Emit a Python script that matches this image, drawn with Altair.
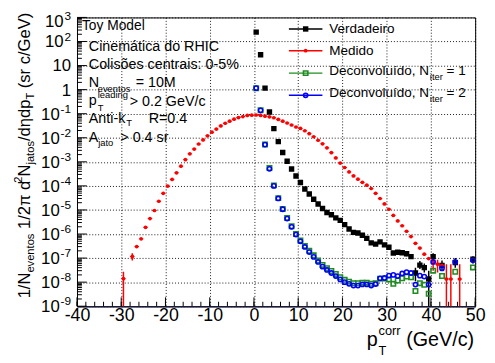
import altair as alt
import pandas as pd

# ---------------- data ----------------
true_x = [0.5, 1.5, 2.5, 3.5, 4.5, 5.5, 6.5, 7.5, 8.5, 9.5, 10.5, 11.5, 12.5, 13.5, 14.5,
          15.5, 16.5, 17.5, 18.5, 19.5, 20.5, 21.5, 22.5, 23.5, 24.5, 25.5, 26.5, 27.5,
          28.5, 29.5, 30.5, 31.5, 32.5, 33.5, 34.5, 35.5, 36.5, 37.5, 38.5, 39.5, 40.5,
          42.5, 45.5, 49.5]
true_y = [245, 28, 1.15, 0.117, 0.024, 6.9e-3, 2.45e-3, 1.05e-3, 5.0e-4, 2.57e-4, 1.38e-4,
          7.4e-5, 4.6e-5, 2.8e-5, 1.78e-5, 1.15e-5, 7.8e-6, 6.3e-6, 4.7e-6, 3.7e-6, 2.45e-6,
          1.62e-6, 1.17e-6, 1.1e-6, 8.9e-7, 6.6e-7, 4.3e-7, 3.8e-7, 4.7e-7, 3.55e-7, 2.8e-7,
          1.62e-7, 1.74e-7, 1.66e-7, 1.51e-7, 1.15e-7, 2.4e-8, 5.1e-8, 4.0e-8, 1.35e-8,
          1.15e-7, 5.0e-8, 6.5e-8, 8.9e-8]

meas_x = [-29.5, -27.5, -26.5, -25.5, -24.5, -23.5, -22.5, -21.5, -20.5, -19.5, -18.5,
          -17.5, -16.5, -15.5, -14.5, -13.5, -12.5, -11.5, -10.5, -9.5, -8.5, -7.5, -6.5,
          -5.5, -4.5, -3.5, -2.5, -1.5, -0.5, 0.5, 1.5, 2.5, 3.5, 4.5, 5.5, 6.5, 7.5, 8.5,
          9.5, 10.5, 11.5, 12.5, 13.5, 14.5, 15.5, 16.5, 17.5, 18.5, 19.5, 20.5, 21.5, 22.5,
          23.5, 24.5, 25.5, 26.5, 27.5, 28.5, 29.5, 30.5, 31.5, 32.5, 33.5, 34.5, 35.5,
          36.5, 37.5, 38.5, 39.5, 40.5, 41.5, 42.5, 43.5, 44.5, 46.5]
meas_y = [1.4e-8, 1.17e-7, 3.0e-7, 6.3e-7, 1.9e-6, 4.4e-6, 9.5e-6, 2.3e-5, 4.9e-5, 9.8e-5,
          1.86e-4, 3.5e-4, 6.6e-4, 1.23e-3, 2.14e-3, 3.4e-3, 5.5e-3, 8.1e-3, 1.2e-2, 1.7e-2,
          2.3e-2, 3.1e-2, 4.0e-2, 4.9e-2, 5.9e-2, 6.9e-2, 7.6e-2, 8.5e-2, 8.7e-2, 8.8e-2,
          8.5e-2, 7.9e-2, 7.4e-2, 6.8e-2, 5.8e-2, 4.9e-2, 4.1e-2, 3.4e-2, 2.8e-2, 2.45e-2,
          1.95e-2, 1.48e-2, 1.1e-2, 7.9e-3, 5.6e-3, 3.8e-3, 2.4e-3, 1.45e-3, 8.9e-4, 5.8e-4,
          3.8e-4, 2.6e-4, 1.9e-4, 1.4e-4, 1.07e-4, 7.8e-5, 4.9e-5, 3.0e-5, 1.78e-5, 1.07e-5,
          5.9e-6, 3.5e-6, 2.2e-6, 1.3e-6, 7.8e-7, 4.1e-7, 2.6e-7, 1.45e-7, 9.5e-8, 6.6e-8,
          5.6e-8, 5.0e-8, 1.35e-8, 1.35e-8, 1.35e-8]

unf_x = [0.5, 1.5, 2.5, 3.5, 4.5, 5.5, 6.5, 7.5, 8.5, 9.5, 10.5, 11.5, 12.5, 13.5, 14.5,
         15.5, 16.5, 17.5, 18.5, 19.5, 20.5, 21.5, 22.5, 23.5, 24.5, 25.5, 26.5, 27.5,
         28.5, 29.5, 30.5, 31.5, 32.5, 33.5, 34.5, 35.5, 36.5, 37.5, 38.5, 39.5, 40.5,
         42.5, 45.5, 49.5]
unf1_y = [1.15, 0.138, 5.2e-3, 5.5e-4, 1.05e-4, 3.1e-5, 1.1e-5, 4.6e-6, 2.1e-6, 1.0e-6,
          5.4e-7, 3.2e-7, 2.0e-7, 1.3e-7, 8.0e-8, 5.2e-8, 3.8e-8, 2.9e-8, 2.2e-8, 1.6e-8,
          1.25e-8, 1.05e-8, 9.0e-9, 9.0e-9, 9.5e-9, 9.5e-9, 8.5e-9, 9.0e-9, 1.4e-8, 1.4e-8,
          1.3e-8, 8.5e-9, 1.17e-8, 1.45e-8, 1.7e-8, 1.6e-8, 4.3e-9, 9.1e-9, 7.8e-9, 3.3e-9,
          3.0e-8, 1.8e-8, 2.7e-8, 4.1e-8]
unf2_y = [1.15, 0.138, 5.2e-3, 5.1e-4, 1.0e-4, 3.0e-5, 1.07e-5, 4.4e-6, 2.0e-6, 9.5e-7,
          5.0e-7, 2.9e-7, 1.78e-7, 1.12e-7, 6.9e-8, 4.4e-8, 3.2e-8, 2.4e-8, 1.8e-8, 1.3e-8,
          1.0e-8, 8.5e-9, 7.2e-9, 7.2e-9, 8.0e-9, 8.0e-9, 7.2e-9, 8.3e-9, 1.45e-8, 1.5e-8,
          1.86e-8, 2.0e-8, 1.78e-8, 2.3e-8, 2.6e-8, 2.4e-8, 7.9e-9, 1.86e-8, 1.7e-8, 7.9e-9,
          6.9e-8, 3.7e-8, 6.9e-8, 8.1e-8]

meas_err_x = [-29.5, -27.5, 40.5, 41.5, 43.5, 44.5, 46.5]
meas_err_lo = [1e-10, 8.0e-8, 3.0e-8, 2.5e-8, 1e-10, 1e-10, 1e-10]
meas_err_hi = [2.7e-8, 1.6e-7, 1.1e-7, 8.5e-8, 5.6e-8, 5.6e-8, 5.6e-8]

true_err_x = [34.5, 36.5, 37.5, 38.5, 39.5, 40.5, 42.5, 45.5, 49.5]
true_err_lo = [1.2e-7, 1.1e-8, 3.5e-8, 2.5e-8, 1e-10, 8.0e-8, 3.0e-8, 4.0e-8, 6.0e-8]
true_err_hi = [1.9e-7, 4.0e-8, 7.5e-8, 6.0e-8, 3.0e-8, 1.6e-7, 8.0e-8, 1.0e-7, 1.2e-7]

x_ticks = [-40, -30, -20, -10, 0, 10, 20, 30, 40, 50]
y_exps = [-9, -8, -7, -6, -5, -4, -3, -2, -1, 0, 1, 2, 3]

legend_labels = ["Verdadeiro", "Medido", "Deconvoluído, N", "Deconvoluído, N"]
legend_colors = ["#000000", "#ff0000", "#1e8c1e", "#0000ff"]

# ---------------- layout ----------------
W, H = 404, 293
FONT = "Liberation Sans"
xs = alt.Scale(domain=[-40, 50], nice=False, zero=False)
ys = alt.Scale(type="log", domain=[1e-9, 1e3], nice=False)

# approximate Arial / Liberation Sans advance widths (em) for text layout
CW = {'1': .556, '2': .556, '/': .278, 'N': .722, 'e': .556, 'v': .5, 'n': .556, 't': .278,
      'o': .556, 's': .5, ' ': .278, '\u03c0': .57, 'd': .556, 'j': .222, 'a': .556,
      '\u03b7': .556, 'p': .556, 'T': .611, '(': .333, ')': .333, 'r': .333, 'c': .5,
      'G': .778, 'V': .667}


def tw(s, fs):
    return sum(CW.get(ch, .556) for ch in s) * fs


xaxis = alt.Axis(values=x_ticks, grid=True, gridDash=[1, 2], gridColor="#000000",
                 gridOpacity=0.9, ticks=False, domain=True, domainColor="#1a1a3a",
                 domainWidth=1.5, labelFont=FONT, labelFontSize=18, labelColor="black",
                 labelPadding=9, labelBaseline="middle", labelFlush=False,
                 labelExpr="datum.value + ''", title=None)
yaxis = alt.Axis(values=[10.0 ** e for e in y_exps], grid=True, gridDash=[1, 2],
                 gridColor="#000000", gridOpacity=0.9, ticks=False, domain=False,
                 labels=False, title=None)


def X(f):
    return alt.X(f, type="quantitative", scale=xs, axis=xaxis)


def Y(f):
    return alt.Y(f, type="quantitative", scale=ys, axis=yaxis)


df_true = pd.DataFrame({"x": true_x, "y": true_y})
df_meas = pd.DataFrame({"x": meas_x, "y": meas_y})
df_u1 = pd.DataFrame({"x": unf_x, "y": unf1_y})
df_u2 = pd.DataFrame({"x": unf_x, "y": unf2_y})
df_me = pd.DataFrame({"x": meas_err_x, "lo": meas_err_lo, "hi": meas_err_hi})
df_te = pd.DataFrame({"x": true_err_x, "lo": true_err_lo, "hi": true_err_hi})

layers = []

# ticks (inside the frame)
minor_x = pd.DataFrame({"t": [v for v in range(-40, 51, 2)]})
major_x = pd.DataFrame({"t": x_ticks})
layers.append(alt.Chart(minor_x).mark_rule(color="black", strokeWidth=1).encode(
    x=X("t"), y=alt.value(H), y2=alt.value(H - 4.5)))
layers.append(alt.Chart(major_x).mark_rule(color="black", strokeWidth=1).encode(
    x=X("t"), y=alt.value(H), y2=alt.value(H - 9)))
minor_y = pd.DataFrame({"t": [k * 10.0 ** e for e in y_exps[:-1] for k in range(2, 10)]})
major_y = pd.DataFrame({"t": [10.0 ** e for e in y_exps]})
layers.append(alt.Chart(minor_y).mark_rule(color="black", strokeWidth=1).encode(
    y=Y("t"), x=alt.value(0), x2=alt.value(5)))
layers.append(alt.Chart(major_y).mark_rule(color="black", strokeWidth=1).encode(
    y=Y("t"), x=alt.value(0), x2=alt.value(10)))

# error bars
layers.append(alt.Chart(df_te).mark_rule(color="black", strokeWidth=1.5, clip=True).encode(
    x=X("x"), y=Y("lo"), y2="hi"))
layers.append(alt.Chart(df_me).mark_rule(color="#ff0000", strokeWidth=1.5, clip=True).encode(
    x=X("x"), y=Y("lo"), y2="hi"))

# data markers
layers.append(alt.Chart(df_true).mark_square(color="black", size=30, opacity=1, clip=True).encode(
    x=X("x"), y=Y("y")))
layers.append(alt.Chart(df_meas).transform_calculate(a="datum.x - 0.5", b="datum.x + 0.5")
              .mark_rule(color="#ff0000", strokeWidth=1, clip=True).encode(
    x=X("a:Q"), x2="b:Q", y=Y("y")))
layers.append(alt.Chart(df_meas).mark_circle(color="#ff0000", size=14, opacity=1, clip=True).encode(
    x=X("x"), y=Y("y")))
layers.append(alt.Chart(df_u1).mark_square(filled=False, color="#1e8c1e", size=20, strokeWidth=1.6,
                                           opacity=1, clip=True).encode(x=X("x"), y=Y("y")))
layers.append(alt.Chart(df_u2).mark_point(shape="circle", filled=False, color="#0000ff", size=18,
                                          strokeWidth=1.6, opacity=1, clip=True).encode(x=X("x"), y=Y("y")))

one = pd.DataFrame({"k": [0]})


def txt(s, px, py, size, align="left", angle=0, baseline="middle", color="black"):
    return alt.Chart(one).mark_text(text=s, fontSize=size, font=FONT, align=align, angle=angle,
                                    baseline=baseline, color=color).encode(
        x=alt.value(px), y=alt.value(py))


# y tick labels (10^n with superscript)
for e in y_exps:
    yv = H - (e + 9) * (H / 12.0)
    if e == 3:
        yv += 4
    if e == 0:
        layers.append(txt("1", -6, yv + 1, 17, align="right"))
    elif e == 1:
        layers.append(txt("10", -6, yv + 1, 17, align="right"))
    else:
        sup = str(e)
        w = 7 * len(sup) if e > 0 else 4 + 7 * (len(sup) - 1)
        layers.append(txt(sup, -6, yv - 5, 12, align="right"))
        layers.append(txt("10", -6 - w - 0.5, yv + 1, 17, align="right"))

# y title pieces (rotated, reading upward)
MF, SF = 16.8, 11.3
yt = [("1/N", "m"), ("eventos", "sub"), (" ", "m"), ("1/2\u03c0 d", "m"), ("2", "sup"),
      ("N", "m"), ("jatos", "sub"), ("/d\u03b7dp", "m"), ("T", "sub"), (" ", "m"),
      ("(sr c/GeV)", "m")]
pos = 285.0
xoff = {"m": -53, "sub": -47, "sup": -59}
for s, kind in yt:
    fs = MF if kind == "m" else SF
    if s.strip():
        layers.append(txt(s, xoff[kind], pos, fs, align="left", angle=270))
    pos -= tw(s, fs)

# x title
layers.append(txt("p", 294, 327, 20))
layers.append(txt("corr", 306, 318, 13))
layers.append(txt("T", 306, 339, 13))
layers.append(txt("(GeV/c)", 334, 327, 20))

# info text block
info = [("Toy Model", 5, 9, 14), ("Cinemática do RHIC", 12, 30, 14.5),
        ("Colisões centrais: 0-5%", 12, 48.5, 14.5), ("N", 12, 66.5, 14.5),
        ("eventos", 21, 72.5, 9.5), ("= 10M", 59.5, 66.5, 14.5), ("p", 12, 85, 14.5),
        ("leading", 21, 79, 9.5), ("T", 21, 92, 9.5), ("> 0.2 GeV/c", 53.5, 85.5, 14.5),
        ("Anti-k", 12, 103.3, 14.5), ("T", 50, 107.5, 9.5), ("R=0.4", 72.7, 103.3, 14.5),
        ("A", 12, 122, 14.5), ("jato", 21.5, 127, 9.5), ("> 0.4 sr", 44, 122, 14.5)]
for s, px, py, fs in info:
    layers.append(txt(s, px, py, fs))

# legend
rows = [11.7, 33.7, 56.5, 79]
for i, (lab, col) in enumerate(zip(legend_labels, legend_colors)):
    ry = rows[i]
    layers.append(alt.Chart(one).mark_rule(color=col, strokeWidth=1.5).encode(
        x=alt.value(215), x2=alt.value(249), y=alt.value(ry)))
    if i == 0:
        layers.append(alt.Chart(one).mark_square(color=col, size=30, opacity=1).encode(
            x=alt.value(232), y=alt.value(ry)))
    elif i == 1:
        layers.append(alt.Chart(one).mark_circle(color=col, size=14, opacity=1).encode(
            x=alt.value(232), y=alt.value(ry)))
    elif i == 2:
        layers.append(alt.Chart(one).mark_square(filled=False, color=col, size=20, strokeWidth=1.6,
                                                 opacity=1).encode(x=alt.value(232), y=alt.value(ry)))
    else:
        layers.append(alt.Chart(one).mark_point(shape="circle", filled=False, color=col, size=18,
                                                strokeWidth=1.6, opacity=1).encode(
            x=alt.value(232), y=alt.value(ry)))
    if i < 2:
        layers.append(txt(lab, 256, ry, 13.7))
    else:
        layers.append(txt(lab, 256, ry - 2.5, 13.7))
        layers.append(txt("iter", 358, ry + 4, 9.5))
        layers.append(txt("= " + str(i - 1), 375, ry - 2.5, 13.7))

chart = alt.layer(*layers).properties(
    width=W, height=H,
    autosize=alt.AutoSizeParams(type="none"),
    padding={"left": 70, "top": 7, "right": 12, "bottom": 52},
    background="white",
).configure_view(stroke="black", strokeWidth=1)

chart.save("out.html", embed_options={"renderer": "svg", "actions": False})
